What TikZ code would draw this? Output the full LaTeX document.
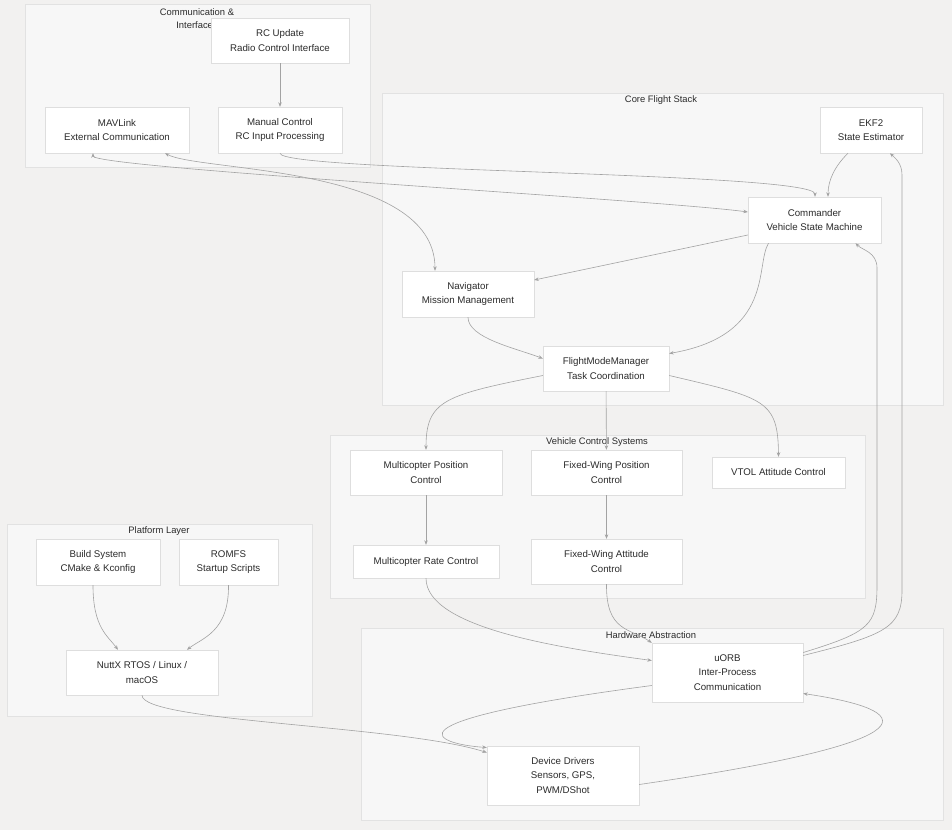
\documentclass[tikz,border=0pt]{standalone}
\usepackage{fontspec}
\setmainfont{Liberation Sans}
\usepackage{tikz}
\usetikzlibrary{arrows.meta,positioning}

\definecolor{canvasbg}{HTML}{F2F1F0}
\definecolor{groupbg}{HTML}{F7F7F7}
\definecolor{groupline}{HTML}{E2E2E2}
\definecolor{boxline}{HTML}{DEDEDE}
\definecolor{wire}{HTML}{A3A3A3}
\definecolor{ink}{HTML}{2B2B2B}

\begin{document}
\begin{tikzpicture}[
x=1pt,y=-1pt,
>={Stealth[length=4.5pt,width=3.5pt]},
group/.style={draw=groupline, fill=groupbg},
grouptitle/.style={text=ink, font=\fontsize{9.4}{13}\selectfont, align=center},
box/.style={draw=boxline, fill=white, text=ink, align=center, inner sep=1pt,
  font=\fontsize{9.7}{14.2}\selectfont},
wire/.style={draw=wire, line width=0.6pt, ->},
]
\useasboundingbox[fill=canvasbg] (0,0) rectangle (952,830);

% subgraphs
\draw[group] (25,4) rectangle (370,167);
\draw[group] (382,93) rectangle (943,405);
\draw[group] (330,435) rectangle (865,598);
\draw[group] (7,524) rectangle (312,716);
\draw[group] (361,628) rectangle (943,820);

\node[grouptitle] (tcomm) at (197,18.5) {Communication \&\\Interfaces};
\node[grouptitle] (tcore) at (661,100) {Core Flight Stack};
\node[grouptitle] (tveh) at (597,442) {Vehicle Control Systems};
\node[grouptitle] (tplat) at (159,531) {Platform Layer};
\node[grouptitle] (thw) at (651,635) {Hardware Abstraction};

% communication
\node[box, minimum width=138pt, minimum height=45pt] (rc) at (280,40.5) {RC Update\\Radio Control Interface};
\node[box, minimum width=144pt, minimum height=46pt] (mav) at (117,130) {MAVLink\\External Communication};
\node[box, minimum width=124pt, minimum height=46pt] (manual) at (280,130) {Manual Control\\RC Input Processing};

% core
\node[box, minimum width=102pt, minimum height=46pt] (ekf) at (871,130) {EKF2\\State Estimator};
\node[box, minimum width=133pt, minimum height=46pt] (commander) at (814.5,220) {Commander\\Vehicle State Machine};
\node[box, minimum width=132pt, minimum height=46pt] (navigator) at (468,294) {Navigator\\Mission Management};
\node[box, minimum width=126pt, minimum height=45pt] (fmm) at (606,368.5) {FlightModeManager\\Task Coordination};

% vehicle control
\node[box, minimum width=152pt, minimum height=45pt] (mcpos) at (426,472.5) {Multicopter Position\\Control};
\node[box, minimum width=151pt, minimum height=45pt] (fwpos) at (606.5,472.5) {Fixed-Wing Position\\Control};
\node[box, minimum width=133pt, minimum height=31pt] (vtol) at (778.5,472.5) {VTOL Attitude Control};
\node[box, minimum width=146pt, minimum height=33pt] (mcrate) at (426,561.5) {Multicopter Rate Control};
\node[box, minimum width=151pt, minimum height=45pt] (fwatt) at (606.5,561.5) {Fixed-Wing Attitude\\Control};

% platform
\node[box, minimum width=124pt, minimum height=46pt] (build) at (98,562) {Build System\\CMake \& Kconfig};
\node[box, minimum width=99pt, minimum height=46pt] (romfs) at (228.5,562) {ROMFS\\Startup Scripts};
\node[box, minimum width=152pt, minimum height=45pt] (nuttx) at (142,672.5) {NuttX RTOS / Linux /\\macOS};

% hardware
\node[box, minimum width=151pt, minimum height=59pt] (uorb) at (727.5,672.5) {uORB\\Inter-Process\\Communication};
\node[box, minimum width=152pt, minimum height=59pt] (drivers) at (563,775.5) {Device Drivers\\Sensors, GPS,\\PWM/DShot};

% connections
\draw[wire] (rc) -- (manual);
\draw[wire] (manual.south) .. controls (280,172) and (815,172) .. ([xshift=0.5pt]commander.north);
\draw[wire] ([xshift=-23pt]ekf.south) .. controls (835,166) and (828,180) .. ([xshift=13.5pt]commander.north);
\draw[wire, <->] ([xshift=-24pt]mav.south) .. controls (93,168) and (660,200) .. ([yshift=8pt]commander.west);
\draw[wire, <->] ([xshift=48pt]mav.south) .. controls (200,172) and (435,165) .. ([xshift=-33pt]navigator.north);
\draw[wire] ([yshift=-15pt]commander.west) -- ([yshift=14pt]navigator.east);
\draw[wire] ([xshift=-46pt]commander.south) .. controls (755,265) and (775,335) .. ([yshift=15pt]fmm.east);
\draw[wire] (navigator.south) .. controls (468,338) and (515,348) .. ([yshift=10pt]fmm.west);
\draw[wire] ([yshift=-7pt]fmm.west) .. controls (445,395) and (426,400) .. (mcpos.north);
\draw[wire] (fmm) -- (fwpos);
\draw[wire] ([yshift=-7pt]fmm.east) .. controls (765,398) and (778,400) .. (vtol.north);
\draw[wire] (mcpos) -- (mcrate);
\draw[wire] (fwpos) -- (fwatt);
\draw[wire] (mcrate.south) .. controls (426,628) and (560,648) .. ([yshift=12pt]uorb.west);
\draw[wire] (fwatt.south) .. controls (606,632) and (630,628) .. (uorb.north west);
\draw[wire] ([yshift=20pt]uorb.east) .. controls (870,632) and (877,625) .. (877,585)
  -- (877,268) .. controls (877,252) and (862,250) .. ([xshift=41pt]commander.south);
\draw[wire] ([yshift=17pt]uorb.east) .. controls (885,635) and (902,628) .. (902,590)
  -- (902,175) .. controls (902,163) and (895,158) .. ([xshift=19pt]ekf.south);
\draw[wire] ([yshift=-13pt]uorb.west) .. controls (375,722) and (435,744) .. ([yshift=28pt]drivers.west);
\draw[wire] ([yshift=-9pt]drivers.east) .. controls (945,740) and (915,710) .. ([yshift=-21pt]uorb.east);
\draw[wire] (nuttx.south) .. controls (142,722) and (400,725) .. ([yshift=23pt]drivers.west);
\draw[wire] ([xshift=-5pt]build.south) .. controls (93,628) and (108,636) .. ([xshift=-24pt]nuttx.north);
\draw[wire] (romfs.south) .. controls (229,632) and (202,638) .. ([xshift=45pt]nuttx.north);
\end{tikzpicture}
\end{document}
